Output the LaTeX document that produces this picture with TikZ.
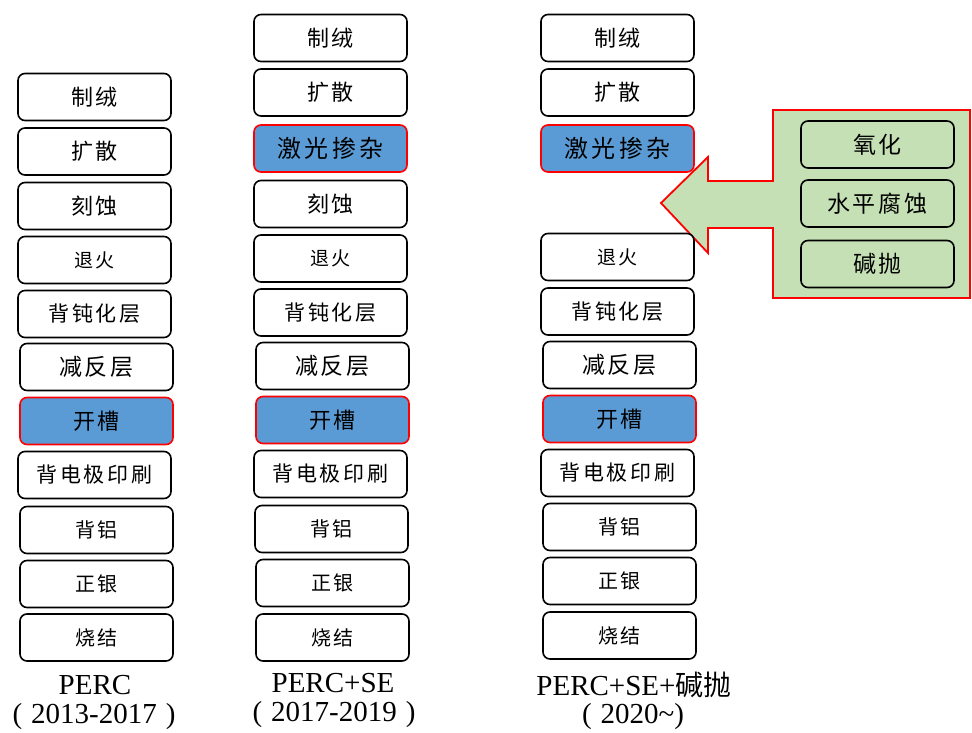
\documentclass[tikz,border=0pt]{standalone}
\usepackage{fontspec}
\setmainfont{Liberation Serif}
\newfontfamily\cjk[LetterSpace=13]{Noto Sans CJK SC}
\newfontfamily\cjkn{Noto Sans CJK SC}
\definecolor{boxblue}{HTML}{5B9BD5}
\definecolor{arrgreen}{HTML}{C5E0B4}
\tikzset{
  box/.style={draw=black, line width=1.6pt, rounded corners=7pt, fill=white,
    minimum width=153pt, minimum height=47pt, inner sep=0pt},
  hl/.style={box, draw=red, fill=boxblue},
  gbox/.style={box, fill=arrgreen},
  fs/.style={font=\cjk\fontsize{#1}{#1}\selectfont},
  lab/.style={font=\fontsize{29}{29}\selectfont, inner sep=0pt},
}
\begin{document}
\begin{tikzpicture}[x=1pt,y=-1pt]
\useasboundingbox (0,0) rectangle (972,733);
% arrow
\draw[red, line width=1.8pt, fill=arrgreen] (661,203) -- (708,157) -- (708,181) -- (773,181) -- (773,110) -- (970,110) -- (970,298) -- (773,298) -- (773,228) -- (708,228) -- (708,253) -- cycle;
\node[gbox, fs=23] (g1) at (877.5,144.5) {氧化};
\node[gbox, fs=23] (g2) at (877.5,203.5) {水平腐蚀};
\node[gbox, fs=23] (g3) at (877.5,264) {碱抛};
% column 1
\node[box, fs=22] (a1) at (94.5,97) {制绒};
\node[box, fs=22] (a2) at (94.5,151.5) {扩散};
\node[box, fs=22] (a3) at (94.5,206) {刻蚀};
\node[box, fs=19] (a4) at (94.5,260) {退火};
\node[box, fs=21] (a5) at (94.5,314) {背钝化层};
\node[box, fs=23] (a6) at (96.5,367) {减反层};
\node[hl, fs=22] (a7) at (96.5,421) {开槽};
\node[box, fs=21] (a8) at (94.5,475) {背电极印刷};
\node[box, fs=20] (a9) at (96.5,530) {背铝};
\node[box, fs=20] (a10) at (96.5,584) {正银};
\node[box, fs=20] (a11) at (96.5,637.5) {烧结};
% column 2
\node[box, fs=22] (b1) at (330.5,38) {制绒};
\node[box, fs=22] (b2) at (330.5,92.5) {扩散};
\node[hl, fs=24] (b3) at (330.5,148.5) {激光掺杂};
\node[box, fs=22] (b4) at (330.5,204) {刻蚀};
\node[box, fs=19] (b5) at (330.5,258.5) {退火};
\node[box, fs=21] (b6) at (330.5,312.5) {背钝化层};
\node[box, fs=23] (b7) at (332.5,366) {减反层};
\node[hl, fs=22] (b8) at (332.5,420) {开槽};
\node[box, fs=21] (b9) at (330.5,474) {背电极印刷};
\node[box, fs=20] (b10) at (331.5,529) {背铝};
\node[box, fs=20] (b11) at (332.5,583) {正银};
\node[box, fs=20] (b12) at (332.5,637.5) {烧结};
% column 3
\node[box, fs=22] (c1) at (617.5,38) {制绒};
\node[box, fs=22] (c2) at (617.5,92.5) {扩散};
\node[hl, fs=24] (c3) at (617.5,148.5) {激光掺杂};
\node[box, fs=19] (c4) at (617.5,257) {退火};
\node[box, fs=21] (c5) at (617.5,311.5) {背钝化层};
\node[box, fs=23] (c6) at (619.5,365) {减反层};
\node[hl, fs=22] (c7) at (619.5,419) {开槽};
\node[box, fs=21] (c8) at (617.5,473) {背电极印刷};
\node[box, fs=20] (c9) at (619.5,527) {背铝};
\node[box, fs=20] (c10) at (619.5,581) {正银};
\node[box, fs=20] (c11) at (619.5,635.5) {烧结};
% labels
\node[lab] (l1) at (95,685) {PERC};
\node[lab] (y1) at (94,717) {(\hspace{9pt}2013-2017\hspace{9pt})};
\node[lab] (l2) at (333,683) {PERC+SE};
\node[lab] (y2) at (334,715) {(\hspace{9pt}2017-2019\hspace{9pt})};
\node[lab] (l3) at (634,685) {PERC+SE+{\cjkn\fontsize{28}{28}\selectfont 碱抛}};
\node[lab] (y3) at (633,717) {(\hspace{9pt}2020\textasciitilde)};
\end{tikzpicture}
\end{document}
